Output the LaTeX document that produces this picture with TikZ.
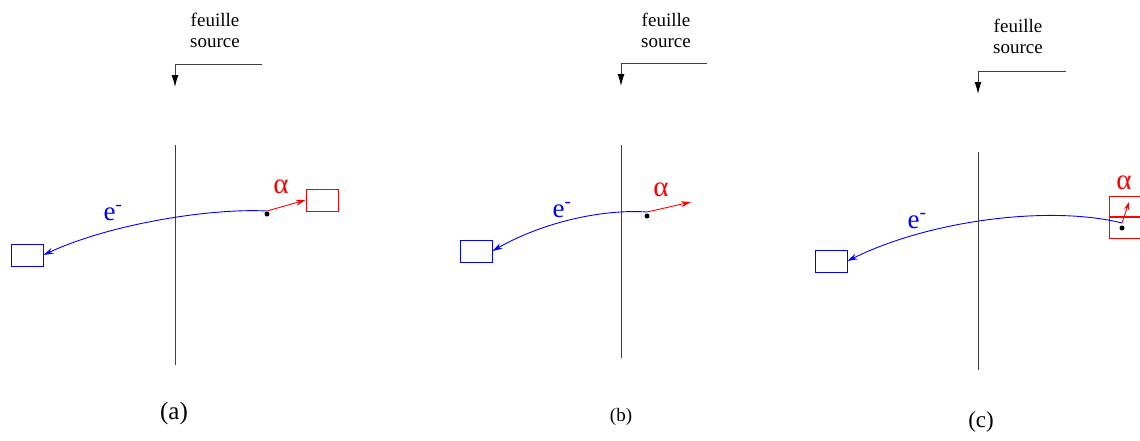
\documentclass[tikz,border=0pt]{standalone}
\usepackage{fontspec}
\setmainfont{Liberation Serif}
\usepackage{tikz}
\usetikzlibrary{arrows.meta, positioning, calc}
\usepackage{xcolor}
\definecolor{electronblue}{HTML}{0000FF}
\definecolor{alphared}{HTML}{FF0000}

\tikzset{
    sheet/.style={draw=black!75, line width=1pt},
    sourcelabel/.style={align=center, inner sep=0pt, font=\fontsize{19}{21}\selectfont},
    sourcearrow/.style={draw=black!75, line width=1pt, -{Latex[length=12pt, width=7pt, black]}},
    detbox/.style={draw, line width=0.9pt, minimum width=32pt, minimum height=22pt, inner sep=0pt},
    etrack/.style={draw=electronblue, line width=0.9pt, -{Stealth[length=10pt, width=6pt]}},
    atrack/.style={draw=alphared, line width=0.9pt, -{Stealth[length=10pt, width=6pt]}},
    emitter/.style={circle, fill=black, inner sep=0pt, minimum size=5pt},
    elabel/.style={text=electronblue, inner sep=0pt, font=\fontsize{27}{27}\selectfont},
    alabel/.style={text=alphared, inner sep=0pt, font=\fontsize{29}{29}\selectfont},
    caption/.style={inner sep=0pt}
}

\begin{document}
\begin{tikzpicture}[x=1pt, y=-1pt]
    \useasboundingbox (0,0) rectangle (1140,440);

    % (a)
    \coordinate (sheetAtop) at (175,145);
    \coordinate (sheetAbot) at (175,365);
    \draw[sheet] (sheetAtop) -- (sheetAbot);
    \node[sourcelabel] (srcA) at (215,30) {feuille\\source};
    \coordinate (srcAstart) at (262,64);
    \coordinate (srcAcorner) at (175,64);
    \coordinate (srcAend) at (175,87);
    \draw[sourcearrow] (srcAstart) -- (srcAcorner) -- (srcAend);
    \node[detbox, draw=electronblue] (eboxA) at (27,255) {};
    \node[detbox, draw=alphared] (aboxA) at (322,200) {};
    \node[emitter] (dotA) at (267,214) {};
    \coordinate (startA) at (267,211);
    \draw[etrack] (startA) .. controls (210,208) and (110,224) .. (eboxA.east);
    \draw[atrack] (startA) -- (aboxA.west);
    \node[elabel] (eA) at (113,213) {e\textsuperscript{\raisebox{1pt}{-}}};
    \node[alabel] (alphaA) at (281,187) {α};
    \node[caption, font=\fontsize{25}{25}\selectfont] (capA) at (174,413) {(a)};

    % (b)
    \coordinate (sheetBtop) at (621,145);
    \coordinate (sheetBbot) at (621,358);
    \draw[sheet] (sheetBtop) -- (sheetBbot);
    \node[sourcelabel] (srcB) at (666,30) {feuille\\source};
    \coordinate (srcBstart) at (707,63);
    \coordinate (srcBcorner) at (621,63);
    \coordinate (srcBend) at (621,86);
    \draw[sourcearrow] (srcBstart) -- (srcBcorner) -- (srcBend);
    \node[detbox, draw=electronblue] (eboxB) at (476,251) {};
    \node[emitter] (dotB) at (647,216) {};
    \coordinate (startB) at (647,212);
    \coordinate (aendB) at (691,202);
    \draw[etrack] (startB) .. controls (605,209) and (545,221) .. (eboxB.east);
    \draw[atrack] (startB) -- (aendB);
    \node[elabel] (eB) at (562,210) {e\textsuperscript{\raisebox{1pt}{-}}};
    \node[alabel] (alphaB) at (661,190) {α};
    \node[caption, font=\fontsize{19}{19}\selectfont] (capB) at (621,417) {(b)};

    % (c)
    \coordinate (sheetCtop) at (978,152);
    \coordinate (sheetCbot) at (978,370);
    \draw[sheet] (sheetCtop) -- (sheetCbot);
    \node[sourcelabel] (srcC) at (1018,36) {feuille\\source};
    \coordinate (srcCstart) at (1066,71);
    \coordinate (srcCcorner) at (978,71);
    \coordinate (srcCend) at (978,94);
    \draw[sourcearrow] (srcCstart) -- (srcCcorner) -- (srcCend);
    \node[detbox, draw=electronblue] (eboxC) at (831,261) {};
    \draw[draw=alphared, line width=0.9pt] (1109,196) rectangle (1145,238);
    \coordinate (stripL) at (1109,217);
    \coordinate (stripR) at (1140,217);
    \draw[draw=alphared, line width=2.5pt] (stripL) -- (stripR);
    \node[emitter] (dotC) at (1122,228) {};
    \coordinate (startC) at (1122,223);
    \coordinate (aendC) at (1129,202);
    \draw[etrack] (startC) .. controls (1050,205) and (930,220) .. (eboxC.east);
    \draw[atrack, -{Stealth[length=8pt, width=5pt]}] (startC) -- (aendC);
    \node[elabel] (eC) at (917,221) {e\textsuperscript{\raisebox{1pt}{-}}};
    \node[alabel] (alphaC) at (1124,183) {α};
    \node[caption, font=\fontsize{23}{23}\selectfont] (capC) at (981,422) {(c)};
\end{tikzpicture}
\end{document}
